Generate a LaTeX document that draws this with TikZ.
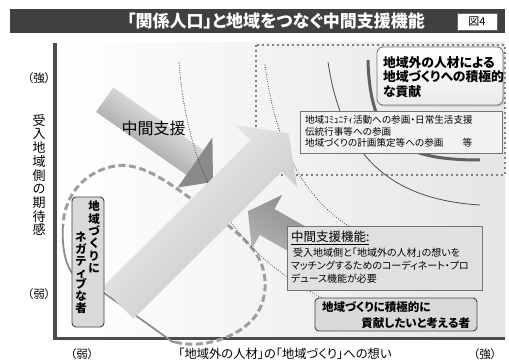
\documentclass[tikz,border=0pt]{standalone}
\usepackage{fontspec}
\setmainfont{Noto Sans CJK JP}[RawFeature=+palt]
\usetikzlibrary{shadows}
\newcommand\jfs[2]{\fontsize{#1}{#2}\selectfont}
\definecolor{titlebg}{HTML}{404040}
\begin{document}
\begin{tikzpicture}[x=1pt,y=-1pt,
  every node/.style={inner sep=0pt, outer sep=0pt},
  sqdots/.style={draw=black!50, line width=2.4pt, dash pattern=on 2.4pt off 2.6pt},
  rdots/.style={draw=black!75, line width=1.1pt, line cap=round, dash pattern=on 0pt off 2.4pt},
  loopdash/.style={draw=black!38, line width=3pt, dash pattern=on 7pt off 3.5pt},
  loopsolid/.style={draw=black!45, line width=1.8pt},
  axisline/.style={draw=black!70, line width=3.5pt},
  plainbox/.style={draw=black!55, line width=0.8pt},
  rbox/.style={draw=black!75, line width=0.9pt, rounded corners=4pt, fill=black!15}
]
\useasboundingbox (0,0) rectangle (509,361);
% title bar
\fill[titlebg] (10,9) rectangle (505,33);
\node[font=\bfseries\jfs{17}{19}, text=white] (title) at (276,21) {「関係人口」と地域をつなぐ中間支援機能};
\node[draw=black!60, fill=white, minimum width=40pt, minimum height=17pt, font=\jfs{11}{12}] (fig) at (477,21.5) {図4};
% plot background
\shade[left color=white, right color=black!10] (57,43) rectangle (505,337);
% axes
\coordinate (otop) at (55,43);
\coordinate (orig) at (55,338.5);
\coordinate (xend) at (505,338.5);
\draw[axisline] (otop) -- (orig) -- (xend);
% axis labels
\node[font=\jfs{11.5}{13}] (strongy) at (39,78) {（強）};
\node[font=\jfs{13}{13.7}, align=center] (ylab) at (39,175) {受\\入\\地\\域\\側\\の\\期\\待\\感};
\node[font=\jfs{11.5}{13}] (weaky) at (39,294) {（弱）};
\node[font=\jfs{11.5}{13}] (weakx) at (82,354) {（弱）};
\node[font=\jfs{12.3}{13}] (xlab) at (285,354) {「地域外の人材」の「地域づくり」への想い};
\node[font=\jfs{11.5}{13}] (strongx) at (485,354) {（強）};
% dotted rectangle region
\draw[sqdots] (256,45) rectangle (505,175);
% arcs
\coordinate (a1s) at (328,62); \coordinate (a1e) at (480,205);
\draw[black!70, line width=0.8pt] (a1s) .. controls (343,165) and (400,200) .. (a1e);
\coordinate (a2s) at (368,60); \coordinate (a2e) at (480,160);
\draw[black!62, line width=3pt] (a2s) .. controls (370,140) and (400,160) .. (a2e);
% dashed loop
\draw[loopdash] (175,342) .. controls (205,350) and (245,335) .. (258,312)
  .. controls (268,295) and (268,270) .. (255,252)
  .. controls (240,232) and (215,215) .. (190,198)
  .. controls (165,180) and (140,162) .. (115,166)
  .. controls (90,170) and (65,190) .. (63,225);
\draw[loopsolid] (63,225) .. controls (61,260) and (70,285) .. (100,290) -- (170,340) .. controls (172,342) .. (175,342);
% upper arrow (中間支援)
\shade[left color=white, right color=black!46, shading angle=-35]
  (113.3,87.4) -- (203.6,150.2) -- (186.4,174.8) -- (96.1,112) -- cycle;
\fill[black!46] (212.4,137.5) -- (213,182) -- (177.6,187.5) -- cycle;
% lower arrow
\shade[left color=black!47, right color=black!28, shading angle=-30]
  (247.9,211.2) -- (282.2,195) -- (274.4,209) -- (335.2,243.3) -- (320.6,269.4) -- (259.7,235) -- (251.8,249) -- cycle;
% dotted curves
\coordinate (d1s) at (179,63); \coordinate (d1e) at (322,298);
\draw[rdots] (d1s) .. controls (190,200) and (250,260) .. (d1e);
\coordinate (d2s) at (265,65); \coordinate (d2e) at (350,227);
\draw[rdots] (d2s) .. controls (275,140) and (300,195) .. (d2e);
% big arrow
\shade[left color=black!4, middle color=black!18, right color=black!25, shading angle=45]
  (102.4,287.4) -- (250.4,140.4) -- (234.9,124.9) -- (288.6,133.4) -- (297.1,187.1) -- (281.6,171.6) -- (133.6,318.6) -- cycle;
% label on upper arrow
\node[font=\jfs{16}{18}] (chukan) at (153.5,128) {中間支援};
% boxes
\node[draw=black!55, line width=0.8pt, rounded corners=6pt, top color=white, bottom color=black!8,
  drop shadow={shadow xshift=1.5pt, shadow yshift=-1.5pt, fill=black!35},
  minimum width=126pt, minimum height=58pt] (goal) at (440,76) {};
\node[anchor=west, align=left, font=\bfseries\jfs{12.8}{14.5}] (goaltxt) at (383,77) {地域外の人材による\\地域づくりへの積極的\\な貢献};
\node[plainbox, fill=black!5, minimum width=202pt, minimum height=42pt] (acts) at (401,132) {};
\node[anchor=west, align=left, font=\jfs{9.6}{11.5}] (actstxt) at (305,131.5) {地域ｺﾐｭﾆﾃｨ活動への参画・日常生活支援\\伝統行事等への参画\\地域づくりの計画策定等への参画　　等};
\node[plainbox, fill=black!12, minimum width=195pt, minimum height=64pt] (func) at (384.5,258) {};
\node[anchor=west, font=\jfs{12.5}{14}] (functitle) at (291,238) {\underline{中間支援機能:}};
\node[anchor=west, align=left, font=\jfs{10}{13}] (functxt) at (291,266) {\ 受入地域側と「地域外の人材」の想いを\\マッチングするためのコーディネート・プロ\\デュース機能が必要};
\node[rbox, minimum width=162pt, minimum height=33pt] (posi) at (396,314.5) {};
\node[anchor=west, font=\bfseries\jfs{11.5}{13}] (posi1) at (322,307) {地域づくりに積極的に};
\node[anchor=east, font=\bfseries\jfs{11.5}{13}] (posi2) at (470,323) {貢献したいと考える者};
\node[rbox, minimum width=32pt, minimum height=130pt] (nega) at (88,262) {};
\node[font=\bfseries\jfs{11.5}{12.4}, align=center] (nega1) at (94,237) {地\\域\\づ\\く\\り\\に};
\node[font=\bfseries\jfs{11.5}{11.8}, align=center] (nega2) at (81,273) {ネ\\ガ\\テ\\ィ\\ブ\\な\\者};
\end{tikzpicture}
\end{document}
